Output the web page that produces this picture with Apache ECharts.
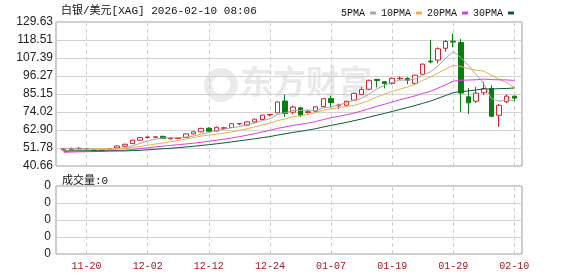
<!DOCTYPE html>
<html>
<head>
<meta charset="utf-8">
<script src="https://cdn.jsdelivr.net/npm/echarts@6/dist/echarts.min.js"></script>
<style>
html,body{margin:0;padding:0;background:#fff;}
#c{width:578px;height:276px;}
</style>
</head>
<body>
<div id="c"></div>
<script>
const dates = ['11-17','11-18','11-19','11-20','11-21','11-24','11-25','11-26','11-27','11-28',
'12-01','12-02','12-03','12-04','12-05','12-08','12-09','12-10','12-11','12-12',
'12-15','12-16','12-17','12-18','12-19','12-22','12-23','12-24','12-26','12-29',
'12-30','12-31','01-02','01-05','01-06','01-07','01-08','01-09','01-12','01-13',
'01-14','01-15','01-16','01-19','01-20','01-21','01-22','01-23','01-26','01-27',
'01-28','01-29','01-30','02-02','02-03','02-04','02-05','02-06','02-09','02-10'];
const tickDates = ['11-20','12-02','12-12','12-24','01-07','01-19','01-29','02-10'];
const yLabels = ['40.66','51.78','62.90','74.02','85.15','96.27','107.39','118.51','129.63'];
const volLabels = ['0','0','0','0','0'];

const openP = [50.6,50.9,51.4,51.2,50.5,50.1,51.0,51.8,52.9,54.5,
56.6,58.3,58.4,59.0,57.5,57.7,58.3,60.5,61.8,64.0,
62.3,64.0,64.4,66.7,65.9,67.9,69.4,72.2,73.5,80.8,
73.9,76.6,73.8,74.5,77.4,82.3,77.9,78.2,81.3,84.9,
88.1,94.2,92.7,91.7,94.6,94.8,91.7,97.4,105.5,106.1,
113.4,117.8,117.0,83.4,80.7,85.9,88.6,72.0,80.3,83.8];
const closeP = [51.3,51.5,51.6,50.9,50.2,50.5,51.3,53.0,54.1,56.6,
58.2,58.6,58.7,57.6,57.8,58.0,60.5,61.8,63.9,62.2,
64.6,64.3,66.8,66.9,67.9,69.6,72.1,72.5,80.2,73.1,
77.1,72.0,74.2,77.2,82.2,79.8,78.3,80.7,85.5,88.0,
93.6,93.5,91.7,94.8,94.9,93.7,96.8,103.6,105.0,113.1,
117.6,117.2,85.7,79.7,85.7,88.6,71.4,78.2,83.8,82.6];
const lowP = [50.1,50.3,50.8,50.4,49.6,49.7,50.7,51.5,52.6,54.2,
56.3,57.5,57.8,57.4,57.0,57.2,58.0,60.2,61.5,61.8,
62.0,63.5,64.1,65.8,65.6,67.6,69.2,71.4,73.2,71.0,
72.5,71.0,73.0,74.0,77.0,77.2,76.0,77.8,81.0,84.5,
87.5,89.2,88.6,91.0,93.8,91.2,90.6,97.0,104.1,104.1,
111.2,114.0,74.1,72.7,79.5,84.4,70.8,64.8,79.5,80.9];
const highP = [51.8,52.0,52.3,51.9,50.9,51.0,51.9,53.4,54.4,56.9,
58.6,58.7,58.9,59.3,58.4,58.6,60.8,62.0,64.3,64.6,
65.0,64.8,67.0,67.2,68.1,69.9,72.3,72.8,80.5,84.9,
78.0,77.2,75.3,77.5,82.6,84.0,79.2,81.0,85.9,89.6,
94.0,94.4,93.0,95.3,96.0,95.5,97.0,104.0,118.5,114.0,
118.5,122.5,119.0,88.8,89.6,92.7,90.5,79.0,84.8,84.0];

const ma5 = [51.50,51.58,51.20,51.18,51.10,50.94,50.90,51.18,51.82,53.10,
54.64,56.10,57.24,57.94,58.18,58.14,58.52,59.14,60.40,61.28,
62.60,63.36,64.36,64.96,66.10,67.10,68.66,69.80,72.46,73.50,
75.00,74.98,75.32,74.72,76.54,77.08,78.34,79.64,81.30,82.46,
85.22,88.26,90.46,92.32,93.70,93.72,94.38,96.76,98.80,102.44,
107.22,111.30,107.72,102.66,97.18,91.38,82.22,80.72,81.54,80.92];
const ma10 = [49.92,50.37,50.73,51.03,51.22,51.22,51.24,51.19,51.50,52.10,
52.79,53.50,54.21,54.88,55.64,56.39,57.31,58.19,59.17,59.73,
60.37,60.94,61.75,62.68,63.69,64.85,66.01,67.08,68.71,69.80,
71.05,71.82,72.56,73.59,75.02,76.04,76.66,77.48,78.01,79.50,
81.15,83.30,85.05,86.81,88.08,89.47,91.32,93.61,95.56,98.07,
100.47,102.84,102.24,100.73,99.81,99.30,96.76,94.22,92.10,89.05];
const ma20 = [49.13,49.27,49.42,49.50,49.58,49.76,49.97,50.19,50.45,50.85,
51.36,51.94,52.47,52.96,53.43,53.81,54.28,54.69,55.34,55.92,
56.58,57.22,57.98,58.78,59.67,60.62,61.66,62.64,63.94,64.77,
65.71,66.38,67.16,68.14,69.36,70.45,71.34,72.28,73.36,74.65,
76.10,77.56,78.81,80.20,81.55,82.76,83.99,85.55,86.79,88.79,
90.81,93.07,93.65,93.77,93.95,94.39,94.04,93.92,93.83,93.56];
const ma30 = [49.82,49.95,50.04,50.05,50.05,49.99,49.99,49.98,49.98,50.16,
50.35,50.68,51.01,51.29,51.60,51.97,52.42,52.86,53.36,53.81,
54.36,54.94,55.56,56.20,56.85,57.49,58.19,58.82,59.79,60.54,
61.40,62.09,62.84,63.72,64.78,65.76,66.66,67.58,68.63,69.68,
70.86,72.02,73.12,74.36,75.60,76.79,78.00,79.39,80.76,82.46,
84.22,85.99,86.62,87.04,87.64,88.27,88.25,88.44,88.56,88.87];
const volume = [0,0,0,0,0,0,0,0,0,0,0,0,0,0,0,0,0,0,0,0,0,0,0,0,0,0,0,0,0,0,
0,0,0,0,0,0,0,0,0,0,0,0,0,0,0,0,0,0,0,0,0,0,0,0,0,0,0,0,0,0];

const candles = dates.map((d, i) => [openP[i], closeP[i], lowP[i], highP[i]]);

const UP = '#d0262b', DOWN = '#0a7d12';
const MONO = "'Liberation Mono','Noto Sans CJK SC',monospace";
const GRIDC = '#d2d2d2', FRAME = '#9a9a9a';
const L = 56, W = 466, BAND = W / (dates.length + 1);
const dashed = {type: [4, 3], color: '#cfcfcf', width: 1};
const vlines = tickDates.map(d => ({xAxis: d}));

const chart = echarts.init(document.getElementById('c'), null, {renderer: 'canvas'});
chart.setOption({
  animation: false,
  backgroundColor: '#fff',
  title: [
    {text: '白银/美元[XAG] 2026-02-10 08:06', left: 56, top: 1,
     textStyle: {fontFamily: MONO, fontSize: 11, fontWeight: 'normal', color: '#111'}},
    {text: '成交量:0', left: 57, top: 171,
     textStyle: {fontFamily: MONO, fontSize: 11, fontWeight: 'normal', color: '#111'}}
  ],
  legend: {
    data: ['5PMA', '10PMA', '20PMA', '30PMA'],
    left: 336, top: 3, align: 'right', icon: 'rect',
    itemWidth: 6, itemHeight: 3, itemGap: 5, selectedMode: false,
    textStyle: {fontFamily: MONO, fontSize: 10, color: '#111'}
  },
  graphic: [
    {type: 'ring', shape: {cx: 221, cy: 85, r: 17, r0: 9}, style: {fill: 'rgba(0,0,0,0.08)'}, z: 0},
    {type: 'text', left: 240, top: 65, z: 0,
     style: {text: '东方财富', font: "bold 33px 'Noto Sans CJK SC'", fill: 'rgba(0,0,0,0.085)'}}
  ],
  grid: [
    {left: L, top: 22, width: W, height: 144, show: true, borderColor: FRAME, borderWidth: 1, backgroundColor: 'transparent'},
    {left: L + BAND / 2, top: 22, width: W, height: 144},
    {left: L, top: 186, width: W, height: 68, show: true, borderColor: FRAME, borderWidth: 1, backgroundColor: 'transparent'},
    {left: L + BAND / 2, top: 186, width: W, height: 68}
  ],
  xAxis: [
    {type: 'value', gridIndex: 0, min: 0, max: 1, show: false},
    {type: 'category', gridIndex: 1, data: dates, max: dates.length, boundaryGap: true,
     axisLine: {show: false}, axisTick: {show: false}, axisLabel: {show: false}, splitLine: {show: false}},
    {type: 'value', gridIndex: 2, min: 0, max: 1, show: false},
    {type: 'category', gridIndex: 3, data: dates, max: dates.length, boundaryGap: true,
     axisLine: {show: false}, axisTick: {show: false}, splitLine: {show: false},
     axisLabel: {interval: (i, v) => tickDates.indexOf(v) >= 0, color: '#9e1c22',
       fontFamily: MONO, fontSize: 10, margin: 7}}
  ],
  yAxis: [
    {type: 'value', gridIndex: 0, position: 'left', min: 0, max: yLabels.length - 1, interval: 1,
     axisLine: {show: false}, axisTick: {show: false},
     axisLabel: {formatter: v => yLabels[v], color: '#222', fontFamily: "'Liberation Sans',Arial", fontSize: 12, margin: 3},
     splitLine: {show: true, lineStyle: {color: GRIDC, width: 1}}},
    {type: 'value', gridIndex: 1, min: 40.66, max: 129.63, show: false, scale: true},
    {type: 'value', gridIndex: 2, position: 'left', min: 0, max: volLabels.length - 1, interval: 1,
     axisLine: {show: false}, axisTick: {show: false},
     axisLabel: {formatter: (v) => volLabels[v], color: '#222', fontFamily: "'Liberation Sans',Arial", fontSize: 12, margin: 5},
     splitLine: {show: true, lineStyle: {color: GRIDC, width: 1}}},
    {type: 'value', gridIndex: 3, min: 0, max: 4, show: false}
  ],
  series: [
    {type: 'candlestick', xAxisIndex: 1, yAxisIndex: 1, data: candles, barWidth: 5, z: 3,
     itemStyle: {color: '#fff', color0: DOWN, borderColor: UP, borderColor0: DOWN, borderWidth: 1},
     markLine: {silent: true, symbol: ['none', 'none'], label: {show: false}, lineStyle: dashed, z: 1, data: vlines}},
    {name: '5PMA', type: 'line', xAxisIndex: 1, yAxisIndex: 1, data: ma5, symbol: 'none', z: 4,
     lineStyle: {width: 1, color: '#a8a8a8'}, itemStyle: {color: '#a8a8a8'}},
    {name: '10PMA', type: 'line', xAxisIndex: 1, yAxisIndex: 1, data: ma10, symbol: 'none', z: 4,
     lineStyle: {width: 1, color: '#e8b04a'}, itemStyle: {color: '#e8b04a'}},
    {name: '20PMA', type: 'line', xAxisIndex: 1, yAxisIndex: 1, data: ma20, symbol: 'none', z: 4,
     lineStyle: {width: 1, color: '#dc3fdc'}, itemStyle: {color: '#dc3fdc'}},
    {name: '30PMA', type: 'line', xAxisIndex: 1, yAxisIndex: 1, data: ma30, symbol: 'none', z: 4,
     lineStyle: {width: 1, color: '#0c5a34'}, itemStyle: {color: '#0c5a34'}},
    {type: 'bar', xAxisIndex: 3, yAxisIndex: 3, data: volume, barWidth: 5, itemStyle: {color: '#888'},
     markLine: {silent: true, symbol: ['none', 'none'], label: {show: false}, lineStyle: dashed, data: vlines}}
  ]
});
</script>
</body>
</html>
